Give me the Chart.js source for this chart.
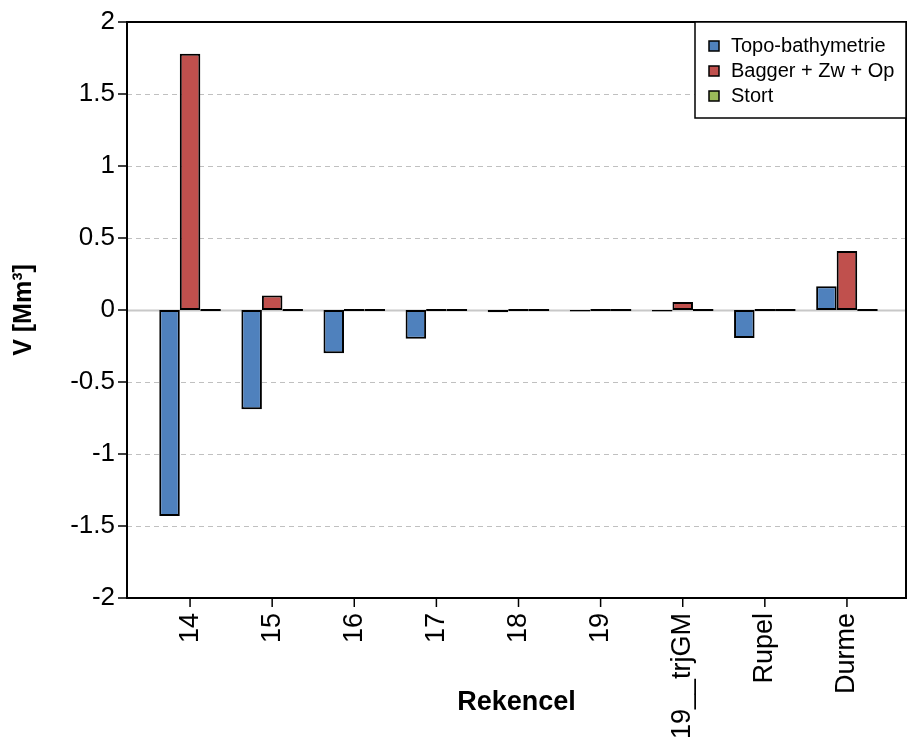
<!DOCTYPE html>
<html lang="nl">
<head>
    <meta charset="UTF-8">
    <title>Volumeverschil per rekencel</title>
    <script src="https://cdn.jsdelivr.net/npm/chart.js"></script>
    <style>
        html, body { margin: 0; padding: 0; background: #fff; }
        canvas { display: block; }
    </style>
</head>
<body>
    <canvas id="volChart" width="909" height="738"></canvas>
    <script>
        // data (Mm3)
        const categories = ["14", "15", "16", "17", "18", "19", "19__trjGM", "Rupel", "Durme"];
        const topoBathy = [-1.43, -0.69, -0.30, -0.20, -0.015, -0.01, -0.01, -0.195, 0.165];
        const baggerZwOp = [1.78, 0.10, 0, 0, 0, 0, 0.055, 0, 0.41];
        const stort = [0, 0, 0, 0, 0, 0, 0, 0, 0];
        const yTicks = [-2, -1.5, -1, -0.5, 0, 0.5, 1, 1.5, 2];

        const FONT = "'Liberation Sans', Arial, sans-serif";
        // plot frame (R style box), wider than the bar area
        const frame = { left: 127, right: 906, top: 22, bottom: 598 };

        const framePlugin = {
            id: 'framePlugin',
            beforeDatasetsDraw(chart) {
                const ctx = chart.ctx, y = chart.scales.y;
                ctx.save();
                yTicks.forEach(v => {
                    if (v === 2 || v === -2) return;
                    const py = Math.round(y.getPixelForValue(v)) + 0.5;
                    ctx.beginPath();
                    if (v === 0) {
                        ctx.strokeStyle = '#c8c8c8';
                        ctx.lineWidth = 2;
                        ctx.setLineDash([]);
                    } else {
                        ctx.strokeStyle = '#c0c0c0';
                        ctx.lineWidth = 1;
                        ctx.setLineDash([5, 4]);
                    }
                    ctx.moveTo(frame.left, py);
                    ctx.lineTo(frame.right, py);
                    ctx.stroke();
                });
                ctx.restore();
            },
            afterDraw(chart) {
                const ctx = chart.ctx, x = chart.scales.x, y = chart.scales.y;
                ctx.save();
                ctx.strokeStyle = '#000';
                ctx.lineWidth = 2;
                ctx.setLineDash([]);
                ctx.strokeRect(frame.left, frame.top, frame.right - frame.left, frame.bottom - frame.top);
                ctx.lineWidth = 1.5;
                yTicks.forEach(v => {
                    const py = y.getPixelForValue(v);
                    ctx.beginPath();
                    ctx.moveTo(frame.left - 9, py);
                    ctx.lineTo(frame.left, py);
                    ctx.stroke();
                });
                categories.forEach((c, i) => {
                    const px = x.getPixelForValue(i);
                    ctx.beginPath();
                    ctx.moveTo(px, frame.bottom);
                    ctx.lineTo(px, frame.bottom + 9);
                    ctx.stroke();
                });

                // axis titles
                ctx.fillStyle = '#000';
                ctx.font = "bold 27px " + FONT;
                ctx.textAlign = 'center';
                ctx.textBaseline = 'middle';
                ctx.fillText('Rekencel', (frame.left + frame.right) / 2, 703);
                ctx.translate(24, (frame.top + frame.bottom) / 2);
                ctx.rotate(-Math.PI / 2);
                ctx.font = "bold 25px " + FONT;
                ctx.fillText('V [Mm³]', 0, 0);
                ctx.restore();

                // legend box, top right inside the frame
                ctx.save();
                const lx = 695, ly = frame.top, lw = frame.right - lx, lh = 96;
                ctx.fillStyle = '#fff';
                ctx.fillRect(lx, ly, lw, lh);
                ctx.strokeStyle = '#000';
                ctx.lineWidth = 1.5;
                ctx.strokeRect(lx, ly, lw, lh);
                ctx.font = "20px " + FONT;
                ctx.textAlign = 'left';
                ctx.textBaseline = 'middle';
                chart.data.datasets.forEach((ds, i) => {
                    const cy = ly + 24 + i * 25;
                    ctx.fillStyle = ds.backgroundColor;
                    ctx.fillRect(709, cy - 5, 10, 10);
                    ctx.strokeStyle = '#000';
                    ctx.lineWidth = 1.5;
                    ctx.strokeRect(709, cy - 5, 10, 10);
                    ctx.fillStyle = '#000';
                    ctx.fillText(ds.label, 731, cy);
                });
                ctx.restore();
            }
        };

        const barStyle = {
            borderColor: '#000',
            borderWidth: 2,
            borderSkipped: false,
            categoryPercentage: 0.75,
            barPercentage: 1.0
        };

        new Chart(document.getElementById('volChart'), {
            type: 'bar',
            data: {
                labels: categories,
                datasets: [
                    Object.assign({ label: 'Topo-bathymetrie', data: topoBathy, backgroundColor: '#4F81BD' }, barStyle),
                    Object.assign({ label: 'Bagger + Zw + Op', data: baggerZwOp, backgroundColor: '#C0504D', minBarLength: 2 }, barStyle),
                    Object.assign({ label: 'Stort', data: stort, backgroundColor: '#9BBB59', minBarLength: 2 }, barStyle)
                ]
            },
            options: {
                responsive: false,
                animation: false,
                layout: { padding: { left: 0, right: 21, top: 22, bottom: 0 } },
                plugins: {
                    legend: { display: false },
                    tooltip: { enabled: false }
                },
                scales: {
                    x: {
                        offset: true,
                        grid: { display: false, drawTicks: false },
                        border: { display: false },
                        afterFit(scale) {
                            scale.height = 140;
                            scale.paddingLeft = 0;
                            scale.paddingRight = 0;
                        },
                        ticks: {
                            color: '#000',
                            font: { family: FONT, size: 27 },
                            minRotation: 90,
                            maxRotation: 90,
                            autoSkip: false,
                            padding: 15
                        }
                    },
                    y: {
                        min: -2,
                        max: 2,
                        grid: { display: false, drawTicks: false },
                        border: { display: false },
                        afterFit(scale) {
                            scale.width = 149;
                            scale.paddingTop = 0;
                            scale.paddingBottom = 0;
                        },
                        afterBuildTicks(scale) { scale.ticks = yTicks.map(v => ({ value: v })); },
                        ticks: {
                            color: '#000',
                            font: { family: FONT, size: 26 },
                            padding: 34,
                            callback: v => String(v)
                        }
                    }
                }
            },
            plugins: [framePlugin]
        });
    </script>
</body>
</html>
